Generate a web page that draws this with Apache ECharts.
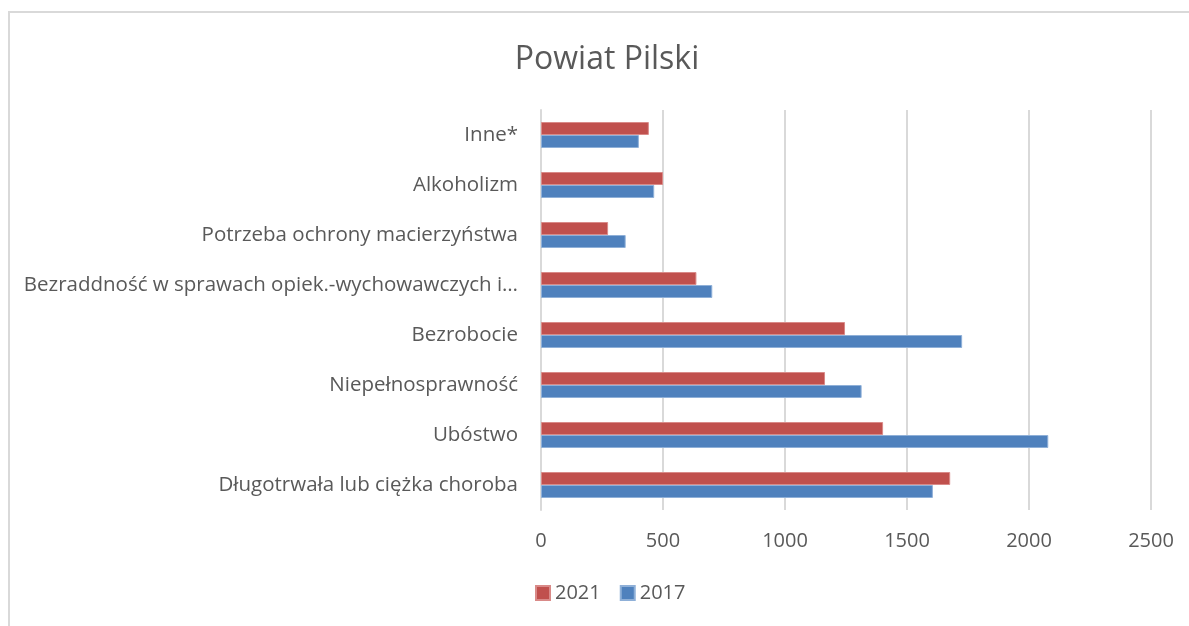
<!DOCTYPE html>
<html>
<head>
<meta charset="utf-8">
<script src="https://cdn.jsdelivr.net/npm/echarts@6/dist/echarts.min.js"></script>
<style>
html,body{margin:0;padding:0;background:#fff;}
#frame{position:absolute;left:8px;top:11px;width:1200px;height:640px;border-left:2px solid #D9D9D9;border-top:2px solid #D9D9D9;}
#chart{position:absolute;left:0;top:0;width:1189px;height:626px;}
</style>
</head>
<body>
<div id="frame"></div>
<div id="chart"></div>
<script>
const categories = [
  "Długotrwała lub ciężka choroba",
  "Ubóstwo",
  "Niepełnosprawność",
  "Bezrobocie",
  "Bezraddność w sprawach opiek.-wychowawczych i…",
  "Potrzeba ochrony macierzyństwa",
  "Alkoholizm",
  "Inne*"
];
const values2021 = [1677, 1402, 1164, 1246, 637, 275, 500, 442];
const values2017 = [1606, 2079, 1314, 1726, 702, 347, 464, 401];
const xTicks = [0, 500, 1000, 1500, 2000, 2500];

const FONT = "Open Sans";
const chart = echarts.init(document.getElementById('chart'), null, {renderer: 'canvas'});
chart.setOption({
  animation: false,
  title: {
    text: "Powiat Pilski",
    left: 602, top: 39, textAlign: 'center',
    textStyle: {fontFamily: FONT, fontSize: 32, fontWeight: 'normal', color: '#595959'}
  },
  legend: {
    data: ["2021", "2017"],
    left: 530, top: 578,
    itemWidth: 14, itemHeight: 14, itemGap: 19,
    icon: 'rect',
    textStyle: {fontFamily: FONT, fontSize: 20, color: '#595959'}
  },
  grid: {left: 541, top: 110, width: 610, height: 400, containLabel: false},
  xAxis: {
    type: 'value', min: xTicks[0], max: xTicks[xTicks.length-1], interval: 500,
    axisLine: {show: false}, axisTick: {show: false},
    axisLabel: {fontFamily: FONT, fontSize: 20, color: '#595959', margin: 21,
                formatter: v => String(v)},
    splitLine: {lineStyle: {color: '#D9D9D9', width: 2}}
  },
  yAxis: {
    type: 'category', data: categories,
    axisLine: {show: true, lineStyle: {color: '#D9D9D9', width: 2}},
    axisTick: {show: false},
    axisLabel: {fontFamily: FONT, fontSize: 20.5, color: '#595959', margin: 23}
  },
  series: [
    {name: "2021", type: 'bar', data: values2021, barGap: '0%', barCategoryGap: '48%',
     itemStyle: {color: '#C0504D', borderColor: '#D98A88', borderWidth: 1}},
    {name: "2017", type: 'bar', data: values2017, barGap: '0%', barCategoryGap: '48%',
     itemStyle: {color: '#4F81BD', borderColor: '#8FB0D8', borderWidth: 1}}
  ]
});
</script>
</body>
</html>
